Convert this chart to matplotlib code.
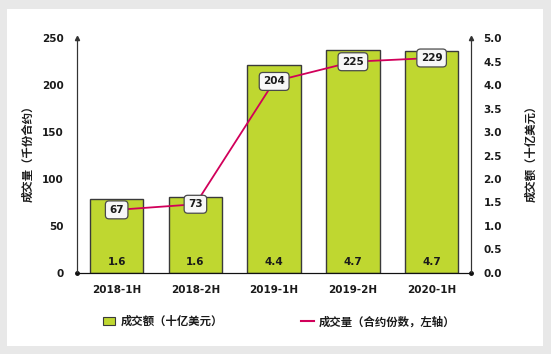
import matplotlib
matplotlib.use("Agg")
import matplotlib.pyplot as plt
from matplotlib.patches import Rectangle, Patch
from matplotlib.lines import Line2D
import numpy as np

categories = ["2018-1H", "2018-2H", "2019-1H", "2019-2H", "2020-1H"]
turnover_bn_usd = [1.57, 1.61, 4.44, 4.74, 4.72]       # bars, right axis
volume_k_contracts = [67, 73, 204, 225, 229]            # line, left axis
left_ticks = [0, 50, 100, 150, 200, 250]
right_ticks = [0.0, 0.5, 1.0, 1.5, 2.0, 2.5, 3.0, 3.5, 4.0, 4.5, 5.0]

bar_label = "成交额（十亿美元）"
line_label = "成交量（合约份数，左轴）"
left_ylabel = "成交量（千份合约）"
right_ylabel = "成交额（十亿美元）"

BAR_COLOR = "#BFD730"
LINE_COLOR = "#D1005A"
TXT = "#1a1a1a"
NUM_FONT = ["DejaVu Sans", "Noto Sans CJK SC"]
CJK_FONT = ["Noto Sans CJK SC", "DejaVu Sans"]
NUM_SIZE = 7.5

plt.rcParams["font.family"] = NUM_FONT
plt.rcParams["font.weight"] = "bold"
plt.rcParams["font.size"] = NUM_SIZE
plt.rcParams["text.color"] = TXT
plt.rcParams["xtick.color"] = TXT
plt.rcParams["ytick.color"] = TXT

W, H = 551, 354
fig = plt.figure(figsize=(W / 100, H / 100), dpi=100)
fig.patch.set_facecolor("#E8E8E8")
fig.patches.append(Rectangle((7 / W, 8 / H), (543 - 7) / W, (345 - 8) / H,
                             transform=fig.transFigure, facecolor="white",
                             edgecolor="none", zorder=-10))

ax = fig.add_axes([77.3 / W, 81.3 / H, 393.7 / W, 234.4 / H])
ax.set_facecolor("none")
x = np.arange(len(categories))

ax.bar(x, turnover_bn_usd, width=0.68, color=BAR_COLOR,
       edgecolor="#3a3a3a", linewidth=1.0, zorder=2)
ax.set_xlim(-0.5, len(categories) - 0.5)
ax.set_ylim(0, 5)
ax.set_xticks(x)
ax.set_xticklabels(categories)

for xi, v in zip(x, turnover_bn_usd):
    ax.annotate(f"{v:.1f}", xy=(xi, 0), xytext=(0, 11), textcoords="offset pixels",
                ha="center", va="center", fontsize=NUM_SIZE, fontweight="bold",
                color=TXT, zorder=3)

ax2 = ax.twinx()
ax.yaxis.tick_right()
ax.yaxis.set_label_position("right")
ax.set_yticks(right_ticks)
ax.set_yticklabels([f"{t:.1f}" for t in right_ticks])

ax2.set_ylim(0, 250)
ax2.yaxis.tick_left()
ax2.yaxis.set_label_position("left")
ax2.set_yticks(left_ticks)
ax2.set_yticklabels([str(t) for t in left_ticks])
ax2.plot(x, volume_k_contracts, color=LINE_COLOR, linewidth=1.3, zorder=3)
for xi, v in zip(x, volume_k_contracts):
    ax2.annotate(str(v), xy=(xi, v), ha="center", va="center",
                 fontsize=NUM_SIZE, fontweight="bold", color=TXT,
                 bbox=dict(boxstyle="round,pad=0.38,rounding_size=0.35",
                           facecolor="#F7F7F7", edgecolor="#4a4a4a", linewidth=0.9),
                 zorder=4)

for a in (ax, ax2):
    a.spines["top"].set_visible(False)
    a.spines["left"].set_color("#333333")
    a.spines["right"].set_color("#333333")
    a.spines["bottom"].set_color("#111111")
    a.tick_params(length=0)
ax.tick_params(axis="y", pad=9)
ax.tick_params(axis="x", pad=9)
ax2.tick_params(axis="y", pad=10)

# axis end markers
ax.plot([0, 1], [1, 1], transform=ax.transAxes, linestyle="none", marker="^",
        markersize=3, color="#333333", clip_on=False, zorder=5)
ax.plot([0, 1], [0, 0], transform=ax.transAxes, linestyle="none", marker="o",
        markersize=2.5, color="#111111", clip_on=False, zorder=5)

ax2.set_ylabel(left_ylabel, family=CJK_FONT, fontsize=8.2, fontweight="bold", color=TXT)
ax2.yaxis.set_label_coords(-0.108, 0.52)
ax.set_ylabel(right_ylabel, family=CJK_FONT, fontsize=8.2, fontweight="bold", color=TXT)
ax.yaxis.set_label_coords(1.135, 0.52)

handles = [Patch(facecolor=BAR_COLOR, edgecolor="#3a3a3a", linewidth=0.8),
           Line2D([], [], color=LINE_COLOR, linewidth=1.5)]
fig.legend(handles, [bar_label, line_label], loc="center left",
           bbox_to_anchor=(102.7 / W, 1 - 321.7 / H), ncol=2, frameon=False,
           prop={"family": CJK_FONT, "size": 8.2, "weight": "bold"},
           handlelength=1.1, handleheight=0.7, handletextpad=0.45,
           columnspacing=6.9, borderpad=0, borderaxespad=0)

fig.savefig("out.png", dpi=100, facecolor=fig.get_facecolor())
